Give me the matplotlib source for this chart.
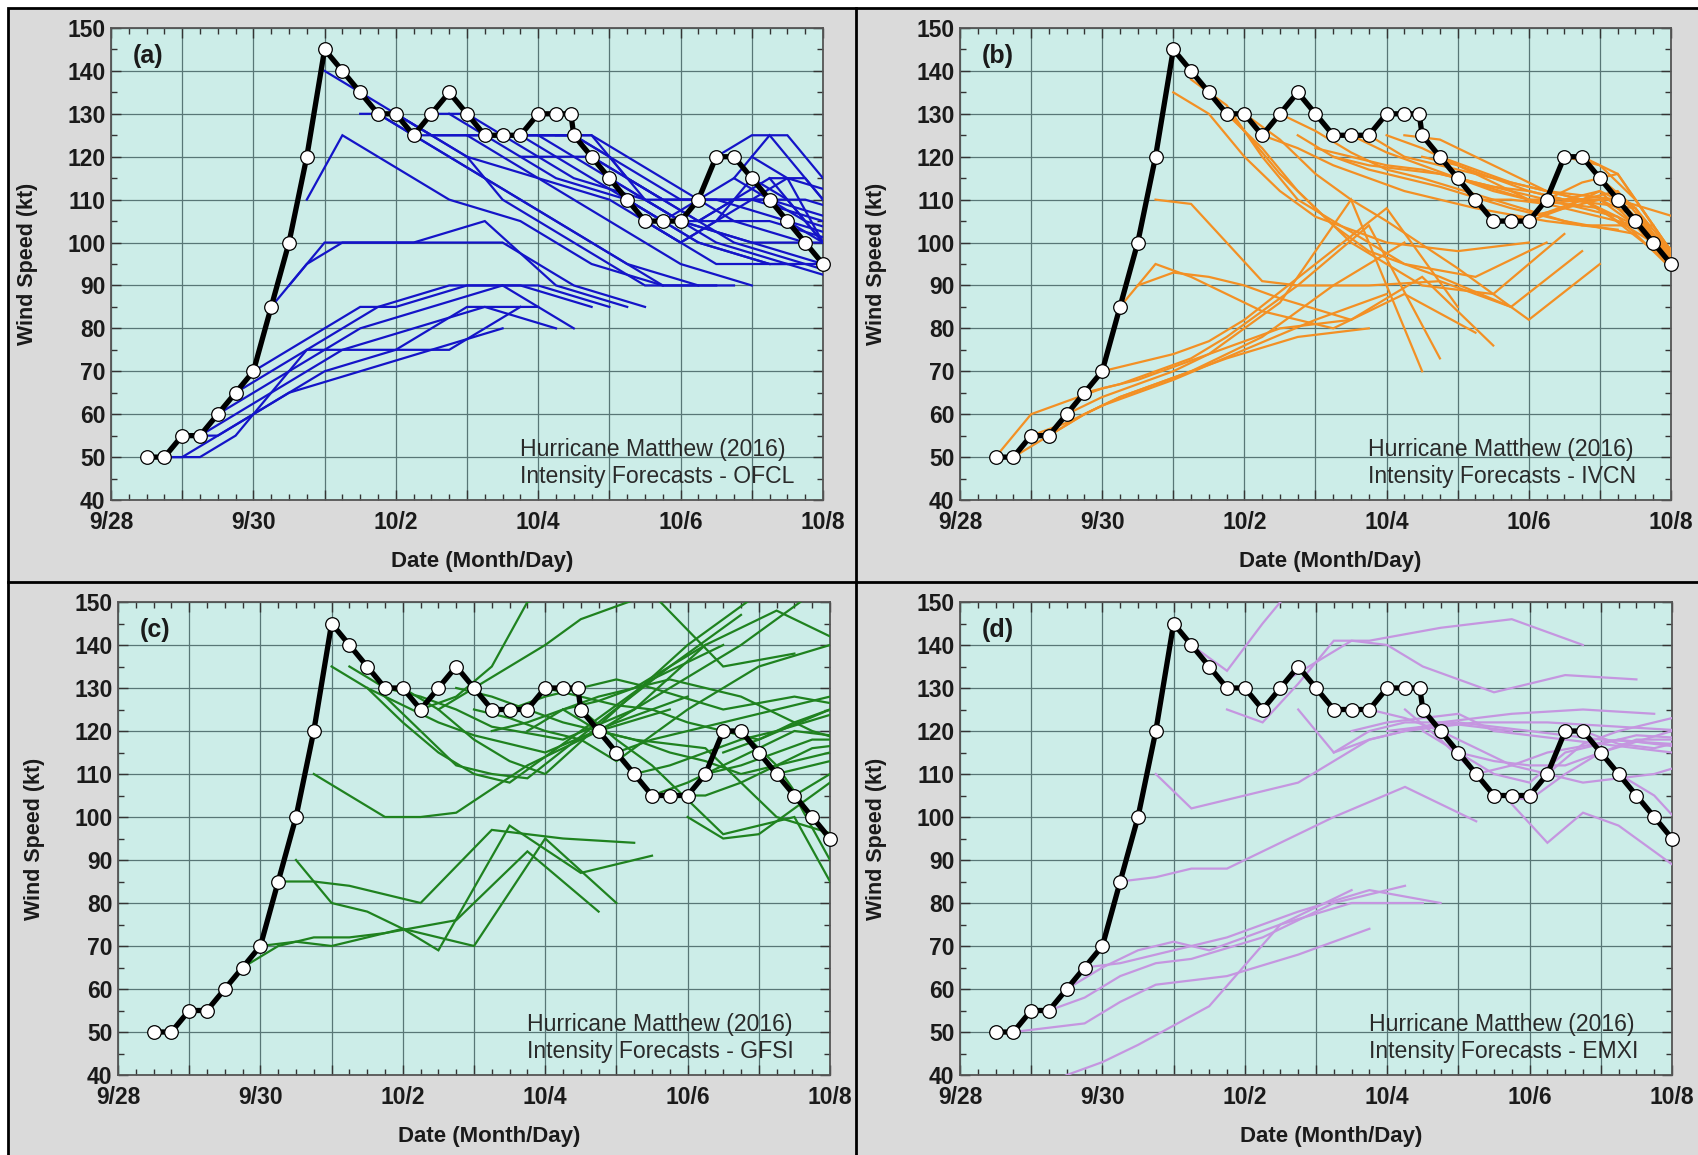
import numpy as np
import matplotlib
matplotlib.use('Agg')
import matplotlib.pyplot as plt
from matplotlib.patches import Rectangle
from matplotlib.lines import Line2D
from matplotlib.ticker import MultipleLocator, FixedLocator, FixedFormatter

plt.rcParams['font.family'] = ['Liberation Sans', 'DejaVu Sans']

# ---------------- data (hours since 9/28 00Z) ----------------
bt_hours = [12, 18, 24, 30, 36, 42, 48, 54, 60, 66,
            72, 78, 84, 90, 96, 102, 108, 114, 120, 126,
            132, 138, 144, 150, 155, 156, 162, 168, 174, 180,
            186, 192, 198, 204, 210, 216, 222, 228, 234, 240]
bt_wind = [50, 50, 55, 55, 60, 65, 70, 85, 100, 120,
           145, 140, 135, 130, 130, 125, 130, 135, 130, 125,
           125, 125, 130, 130, 130, 125, 120, 115, 110, 105,
           105, 105, 110, 120, 120, 115, 110, 105, 100, 95]

leads = [0, 12, 24, 36, 48, 72, 96, 120]

x_tick_labels = ['9/28', '9/30', '10/2', '10/4', '10/6', '10/8']

ofcl_init = [12, 18, 24, 30, 36, 42, 48, 54, 60, 66, 72, 78, 84, 90, 96, 102, 108, 114,
             120, 126, 132, 138, 144, 150, 156, 162, 168, 174, 180, 186, 192, 198, 204,
             210, 216, 222, 228]
ofcl_vals = [
    [50, 50, 55, 60, 65, 70, 75, 80],
    [50, 50, 55, 65, 75, 75, 75, 85],
    [55, 55, 60, 65, 70, 75, 85, 85],
    [55, 60, 65, 70, 75, 80, 85, 80],
    [60, 65, 70, 75, 80, 85, 90, 80],
    [65, 70, 75, 80, 85, 90, 90, 85],
    [70, 75, 80, 85, 85, 90, 90, 85],
    [85, 95, 100, 100, 100, 105, 90, 85],
    [90, 100, 100, 100, 100, 100, 90, 85],
    [110, 125, 120, 115, 110, 105, 95, 90],
    [140, 135, 130, 125, 120, 115, 110, 100],
    [140, 130, 125, 120, 115, 105, 95, 90],
    [130, 130, 125, 120, 110, 100, 90, 90],
    [130, 125, 120, 115, 110, 100, 90, 90],
    [130, 125, 125, 120, 115, 105, 95, 90],
    [125, 125, 125, 120, 115, 110, 100, 95],
    [130, 130, 125, 120, 115, 110, 100, 95],
    [130, 125, 125, 125, 125, 115, 105, 100],
    [125, 125, 125, 120, 115, 105, 100, 95],
    [125, 125, 120, 115, 110, 100, 95, 95],
    [125, 125, 125, 115, 105, 95, 95, 90],
    [120, 120, 120, 115, 110, 100, 95, 90],
    [125, 125, 120, 110, 105, 100, 100, 95],
    [125, 125, 115, 110, 105, 105, 100, 95],
    [125, 120, 115, 110, 110, 105, 100, 90],
    [120, 115, 110, 110, 110, 110, 105, 100],
    [115, 110, 110, 110, 110, 105, 100, 95],
    [110, 105, 105, 110, 110, 105, 95, 90],
    [105, 100, 105, 110, 115, 110, 100, 95],
    [105, 110, 115, 110, 105, 100, 95, 90],
    [100, 105, 115, 110, 100, 95, 90, 85],
    [105, 110, 115, 115, 105, 100, 95, 90],
    [120, 125, 125, 115, 105, 100, 95, 90],
    [115, 125, 115, 105, 100, 95, 90, 85],
    [120, 115, 100, 95, 90, 85, 80, 75],
    [115, 105, 95, 90, 85, 80, 75, 70],
    [105, 100, 90, 85, 80, 75, 70, 65],
]

ivcn_init = [12, 18, 24, 30, 36, 42, 48, 54, 60, 66, 72, 78, 84, 90, 96, 102, 108, 114,
             120, 126, 132, 138, 144, 150, 156, 162, 168, 174, 180, 186, 192, 198, 204,
             210, 216, 222, 228]
ivcn_vals = [
    [50, 60, 63, 66, 68, 74, 80, 82],
    [50, 55, 60, 64, 67, 73, 78, 80],
    [55, 58, 62, 65, 68, 75, 82, 88],
    [55, 60, 64, 67, 70, 78, 90, 100],
    [60, 64, 67, 70, 74, 86, 110, 70],
    [65, 67, 70, 73, 78, 90, 104, 73],
    [70, 72, 74, 77, 82, 95, 108, 85],
    [85, 95, 92, 88, 84, 80, 88, 79],
    [90, 93, 92, 90, 87, 82, 92, 76],
    [110, 109, 100, 91, 90, 90, 91, 85],
    [135, 130, 120, 112, 106, 100, 98, 100],
    [138, 132, 120, 110, 105, 95, 92, 100],
    [135, 126, 116, 108, 100, 90, 88, 102],
    [130, 122, 112, 104, 98, 92, 85, 98],
    [130, 124, 116, 110, 105, 94, 82, 95],
    [125, 122, 118, 115, 112, 108, 105, 103],
    [130, 126, 121, 117, 115, 110, 105, 102],
    [125, 120, 117, 115, 113, 108, 104, 104],
    [122, 120, 118, 117, 115, 110, 108, 95],
    [120, 118, 117, 116, 114, 110, 106, 90],
    [125, 121, 118, 115, 112, 108, 104, 85],
    [125, 120, 118, 116, 114, 110, 102, 85],
    [125, 122, 118, 114, 110, 110, 98, 90],
    [125, 124, 120, 116, 112, 110, 105, 88],
    [120, 118, 115, 112, 110, 108, 88, 80],
    [120, 117, 114, 112, 110, 100, 88, 80],
    [115, 113, 112, 110, 112, 96, 90, 85],
    [110, 110, 109, 110, 110, 92, 85, 80],
    [105, 106, 108, 110, 106, 88, 85, 80],
    [105, 107, 110, 112, 102, 88, 85, 80],
    [105, 108, 112, 108, 96, 90, 85, 80],
    [110, 114, 116, 104, 92, 88, 85, 80],
    [120, 118, 110, 98, 92, 88, 85, 80],
    [120, 116, 104, 92, 88, 85, 80, 78],
    [115, 108, 96, 90, 88, 85, 80, 78],
    [110, 102, 92, 88, 85, 80, 78, 75],
    [105, 95, 90, 88, 85, 80, 78, 75],
]

gfsi_init = [42, 48, 54, 60, 66, 72, 78, 84, 90, 96, 102, 108, 114, 120, 126, 132, 138,
             144, 150, 156, 162, 168, 174, 180, 186, 192, 198, 204, 210, 216, 222, 228]
gfsi_vals = [
    [65, 70, 72, 72, 73, 76, 92, 78],
    [70, 71, 70, 72, 74, 70, 95, 80],
    [85, 85, 84, 82, 80, 97, 95, 94],
    [90, 80, 78, 74, 69, 98, 87, 91],
    [110, 105, 100, 100, 101, 112, 120, 125],
    [135, 130, 126, 122, 119, 115, 122, 128],
    [135, 130, 128, 125, 121, 118, 125, 140],
    [130, 122, 115, 110, 108, 120, 132, 140],
    [128, 120, 112, 110, 109, 122, 135, 147],
    [130, 125, 118, 113, 110, 125, 140, 152],
    [125, 128, 135, 150, 152, 152, 155, 152],
    [125, 130, 135, 140, 146, 152, 135, 138],
    [130, 128, 125, 122, 120, 130, 140, 152],
    [125, 123, 120, 118, 113, 125, 135, 140],
    [120, 122, 125, 127, 130, 140, 148, 140],
    [125, 128, 130, 132, 130, 125, 128, 125],
    [120, 125, 128, 130, 132, 128, 120, 115],
    [130, 128, 126, 125, 122, 118, 125, 135],
    [125, 120, 118, 117, 116, 100, 95, 100],
    [125, 118, 112, 104, 96, 100, 70, 65],
    [120, 118, 115, 113, 110, 114, 118, 125],
    [115, 118, 120, 122, 124, 128, 125, 120],
    [110, 112, 115, 118, 120, 125, 122, 118],
    [105, 108, 112, 116, 120, 118, 114, 110],
    [105, 105, 108, 112, 116, 118, 112, 105],
    [100, 95, 96, 102, 108, 112, 108, 100],
    [110, 112, 115, 118, 118, 114, 110, 100],
    [115, 118, 122, 125, 120, 112, 105, 95],
    [120, 112, 100, 88, 83, 80, 78, 75],
    [115, 105, 90, 85, 80, 78, 75, 72],
    [110, 112, 114, 116, 118, 120, 120, 120],
    [105, 110, 115, 120, 125, 125, 125, 125],
]

emxi_init = [12, 18, 30, 36, 42, 54, 66, 78, 90, 108, 114, 126, 132, 138, 144, 150, 156,
             168, 180, 186, 198, 210, 222]
emxi_vals = [
    [33, 36, 40, 43, 47, 56, 75, 83],
    [50, 51, 52, 57, 61, 63, 68, 74],
    [55, 58, 63, 66, 67, 72, 80, 84],
    [60, 65, 69, 71, 69, 75, 80, 80],
    [65, 66, 68, 70, 72, 78, 83, 80],
    [85, 86, 88, 88, 92, 100, 107, 99],
    [110, 102, 104, 106, 108, 118, 122, 120],
    [140, 134, 145, 155, 160, 160, 160, 160],
    [125, 122, 131, 141, 141, 144, 146, 140],
    [131, 136, 141, 140, 135, 129, 133, 132],
    [125, 115, 120, 122, 122, 124, 125, 124],
    [115, 118, 120, 121, 122, 122, 121, 120],
    [120, 122, 123, 124, 120, 118, 116, 114],
    [125, 123, 120, 116, 112, 108, 110, 115],
    [120, 121, 122, 121, 120, 118, 117, 122],
    [125, 118, 110, 112, 115, 118, 116, 115],
    [120, 115, 110, 108, 115, 119, 118, 113],
    [115, 113, 112, 112, 115, 120, 118, 110],
    [105, 104, 110, 115, 118, 118, 113, 105],
    [103, 94, 101, 98, 92, 80, 75, 70],
    [110, 117, 120, 122, 124, 124, 120, 118],
    [120, 117, 116, 118, 120, 115, 110, 105],
    [110, 105, 96, 90, 85, 80, 75, 70],
]

panels = [
    ('(a)', 'OFCL', ofcl_init, ofcl_vals, '#1414c8', (111, 28, 823, 500)),
    ('(b)', 'IVCN', ivcn_init, ivcn_vals, '#f39024', (960, 28, 1671, 500)),
    ('(c)', 'GFSI', gfsi_init, gfsi_vals, '#1f821f', (118, 602, 830, 1075)),
    ('(d)', 'EMXI', emxi_init, emxi_vals, '#c596e0', (960, 602, 1672, 1075)),
]

# ---------------- figure ----------------
W, H = 1699, 1155
fig = plt.figure(figsize=(W / 100, H / 100), dpi=100)
fig.patch.set_facecolor('white')

GRAY = '#dadada'
fig.add_artist(Rectangle((8 / W, -0.01), 1.02 - 8 / W, 1.01 - 8 / H, transform=fig.transFigure,
                         facecolor=GRAY, edgecolor='black', lw=2.0, zorder=0))
fig.add_artist(Line2D([856 / W, 856 / W], [0, 1 - 8 / H], transform=fig.transFigure,
                      color='black', lw=2.0, zorder=1))
fig.add_artist(Line2D([8 / W, 1], [1 - 582 / H, 1 - 582 / H], transform=fig.transFigure,
                      color='black', lw=2.0, zorder=1))

tick_pos = list(range(0, 241, 24))
tick_lab = []
for i in range(len(tick_pos)):
    tick_lab.append(x_tick_labels[i // 2] if i % 2 == 0 else '')

for label, model, inits, vals, color, (l, t, r, b) in panels:
    ax = fig.add_axes([l / W, 1 - b / H, (r - l) / W, (b - t) / H])
    ax.set_facecolor('#ccede8')
    ax.set_xlim(0, 240)
    ax.set_ylim(40, 150)
    ax.xaxis.set_major_locator(FixedLocator(tick_pos))
    ax.xaxis.set_major_formatter(FixedFormatter(tick_lab))
    ax.xaxis.set_minor_locator(MultipleLocator(6))
    ax.yaxis.set_major_locator(MultipleLocator(10))
    ax.yaxis.set_minor_locator(MultipleLocator(5))
    ax.grid(which='major', color='#587676', lw=0.9, zorder=1)
    ax.set_axisbelow(True)
    ax.tick_params(which='both', direction='in', top=True, right=True, color='#333333')
    ax.tick_params(which='major', length=7, width=1)
    ax.tick_params(which='minor', length=4, width=1)
    ax.tick_params(axis='x', which='major', pad=8)
    ax.tick_params(axis='y', which='major', pad=4)
    for lab in ax.get_xticklabels() + ax.get_yticklabels():
        lab.set_fontsize(16.5)
        lab.set_fontweight('bold')
        lab.set_color('#1a1a1a')
    for sp in ax.spines.values():
        sp.set_color('#555555')
        sp.set_linewidth(1.3)

    for ih, v in zip(inits, vals):
        xs = [ih + ld for ld in leads]
        ax.plot(xs, v, color=color, lw=1.6, zorder=3, solid_joinstyle='miter')

    ax.plot(bt_hours, bt_wind, color='black', lw=3.8, zorder=5, clip_on=False,
            marker='o', markersize=9.8, markerfacecolor='white',
            markeredgecolor='black', markeredgewidth=0.9)

    ax.text(0.031, 0.94, label, transform=ax.transAxes, fontsize=18, fontweight='bold',
            va='center', ha='left', color='#1a1a1a')
    ax.text(0.574, 0.106, 'Hurricane Matthew (2016)', transform=ax.transAxes,
            fontsize=16.6, va='center', ha='left', color='#2a2a2a')
    ax.text(0.574, 0.049, 'Intensity Forecasts - ' + model, transform=ax.transAxes,
            fontsize=16.6, va='center', ha='left', color='#2a2a2a')

    ax.set_ylabel('Wind Speed (kt)', fontsize=15.5, fontweight='bold', color='#1a1a1a')
    ax.yaxis.set_label_coords(-0.117, 0.5)
    ax.set_xlabel('Date (Month/Day)', fontsize=16, fontweight='bold', color='#1a1a1a')
    ax.xaxis.set_label_coords(0.521, -0.131)
    ax.xaxis.label.set_va('center')
    ax.yaxis.label.set_va('center')

fig.savefig('out.png', dpi=100, facecolor=fig.get_facecolor())
